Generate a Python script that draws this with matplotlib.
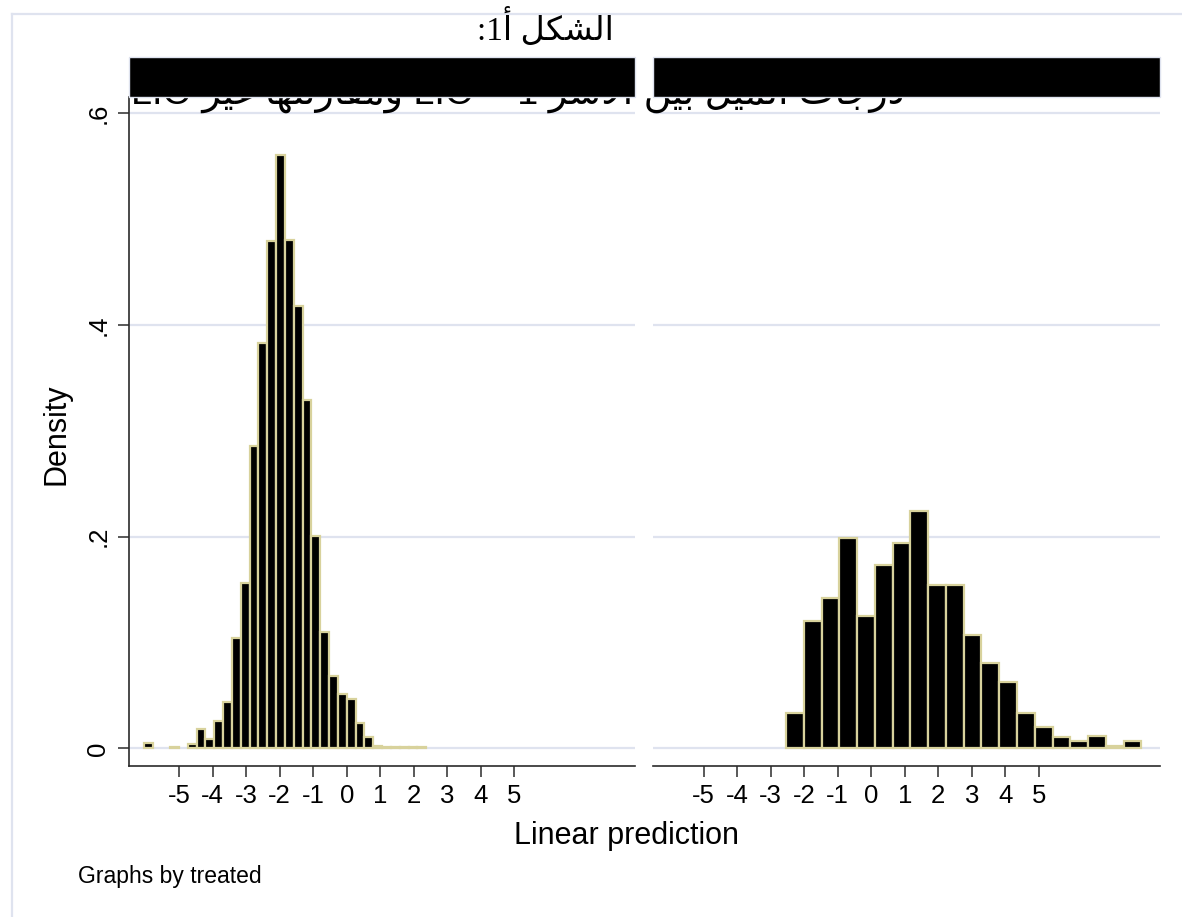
import matplotlib
matplotlib.use("Agg")
import matplotlib.pyplot as plt
from matplotlib.patches import Rectangle
from matplotlib.lines import Line2D
import numpy as np

# ---------------- data ----------------
title_text = "الشكل أ1:"
caption_text = "درجات الميل بين الأسر LIO = 1 ومقارنتها غير LIO"
xlabel_text = "Linear prediction"
ylabel_text = "Density"
note_text = "Graphs by treated"

# left panel (treated = 0): histogram bins
left_bin_start = -6.057
left_bin_width = 0.2634
left_density = [0.005, 0.0, 0.0, 0.0015, 0.0, 0.004, 0.0185, 0.009, 0.026, 0.044,
                0.104, 0.156, 0.286, 0.383, 0.479, 0.561, 0.480, 0.418, 0.329, 0.201,
                0.110, 0.068, 0.051, 0.047, 0.024, 0.0105, 0.0026, 0.0012, 0.0012, 0.0012,
                0.0012, 0.0012]

# right panel (treated = 1)
right_bin_start = -2.539
right_bin_width = 0.5298
right_density = [0.033, 0.120, 0.142, 0.199, 0.125, 0.173, 0.194, 0.224, 0.154, 0.154,
                 0.107, 0.081, 0.063, 0.033, 0.020, 0.011, 0.007, 0.012, 0.0025, 0.007]

x_ticks = [-5, -4, -3, -2, -1, 0, 1, 2, 3, 4, 5]
x_ticklabels = ["-5", "-4", "-3", "-2", "-1", "0", "1", "2", "3", "4", "5"]
y_ticks = [0, 0.2, 0.4, 0.6]
y_ticklabels = ["0", ".2", ".4", ".6"]

# ---------------- simple Arabic shaping for display ----------------
AR_FORMS = {
    'ا': (0xFE8D, 0xFE8E, None, None),
    'أ': (0xFE83, 0xFE84, None, None),
    'ب': (0xFE8F, 0xFE90, 0xFE91, 0xFE92),
    'ة': (0xFE93, 0xFE94, None, None),
    'ت': (0xFE95, 0xFE96, 0xFE97, 0xFE98),
    'ج': (0xFE9D, 0xFE9E, 0xFE9F, 0xFEA0),
    'د': (0xFEA9, 0xFEAA, None, None),
    'ر': (0xFEAD, 0xFEAE, None, None),
    'ز': (0xFEAF, 0xFEB0, None, None),
    'س': (0xFEB1, 0xFEB2, 0xFEB3, 0xFEB4),
    'ش': (0xFEB5, 0xFEB6, 0xFEB7, 0xFEB8),
    'ع': (0xFEC9, 0xFECA, 0xFECB, 0xFECC),
    'غ': (0xFECD, 0xFECE, 0xFECF, 0xFED0),
    'ق': (0xFED5, 0xFED6, 0xFED7, 0xFED8),
    'ك': (0xFED9, 0xFEDA, 0xFEDB, 0xFEDC),
    'ل': (0xFEDD, 0xFEDE, 0xFEDF, 0xFEE0),
    'م': (0xFEE1, 0xFEE2, 0xFEE3, 0xFEE4),
    'ن': (0xFEE5, 0xFEE6, 0xFEE7, 0xFEE8),
    'ه': (0xFEE9, 0xFEEA, 0xFEEB, 0xFEEC),
    'و': (0xFEED, 0xFEEE, None, None),
    'ي': (0xFEF1, 0xFEF2, 0xFEF3, 0xFEF4),
}
LAM_ALEF = {'ا': (0xFEFB, 0xFEFC), 'أ': (0xFEF7, 0xFEF8)}


def shape(s):
    out = []
    i, n = 0, len(s)
    while i < n:
        c = s[i]
        if c not in AR_FORMS:
            out.append(c)
            i += 1
            continue
        prev = s[i - 1] if i > 0 else None
        joins_prev = prev in AR_FORMS and AR_FORMS[prev][2] is not None
        if c == 'ل' and i + 1 < n and s[i + 1] in LAM_ALEF:
            iso, fin = LAM_ALEF[s[i + 1]]
            out.append(chr(fin if joins_prev else iso))
            i += 2
            continue
        nxt = s[i + 1] if i + 1 < n else None
        iso, fin, ini, med = AR_FORMS[c]
        joins_next = ini is not None and nxt in AR_FORMS
        if joins_prev and joins_next:
            f = med
        elif joins_prev:
            f = fin
        elif joins_next:
            f = ini
        else:
            f = iso
        out.append(chr(f))
        i += 1
    return ''.join(out)


def visual(s):
    def kind(c):
        if '\u0600' <= c <= '\u06FF':
            return 'R'
        if c.isascii() and c.isalnum():
            return 'L'
        return 'N'
    types = [kind(c) for c in s]
    n = len(s)
    i = 0
    while i < n:
        if types[i] == 'N':
            j = i
            while j < n and types[j] == 'N':
                j += 1
            before = types[i - 1] if i > 0 else 'R'
            after = types[j] if j < n else 'R'
            t = 'L' if (before == 'L' and after == 'L') else 'R'
            for k in range(i, j):
                types[k] = t
            i = j
        else:
            i += 1
    runs = []
    for c, t in zip(s, types):
        if runs and runs[-1][0] == t:
            runs[-1][1].append(c)
        else:
            runs.append([t, [c]])
    parts = []
    for t, chars in runs:
        txt = ''.join(chars)
        if t == 'R':
            txt = shape(txt)[::-1]
        parts.append(txt)
    return ''.join(parts[::-1])


# ---------------- figure ----------------
W, H = 1182, 917
fig = plt.figure(figsize=(W / 100, H / 100), dpi=100)
fig.patch.set_facecolor("white")

TAN = "#d8d29c"
GRID = "#dfe3ef"
AXC = "#2b2b2b"


def fx(px):
    return px / W


def fy(py):
    return 1 - py / H


ax_left, ax_right_l, ax_w = 128.5, 653.0, 506.5
ax_top, ax_bot = 97.0, 765.7

# frame lines
fig.add_artist(Line2D([fx(12), 1.0], [fy(14), fy(14)], color=GRID, lw=1.6, zorder=0))
fig.add_artist(Line2D([fx(12), fx(12)], [fy(14), 0.0], color=GRID, lw=1.6, zorder=0))

axes = []
for i, (lpx, start, width, dens) in enumerate([
        (ax_left, left_bin_start, left_bin_width, left_density),
        (ax_right_l, right_bin_start, right_bin_width, right_density)]):
    ax = fig.add_axes([fx(lpx), fy(ax_bot), ax_w / W, (ax_bot - ax_top) / H])
    dens = np.asarray(dens)
    edges = start + width * np.arange(len(dens))
    m = dens > 0
    ax.bar(edges[m], dens[m], width=width, align="edge", color="black",
           edgecolor=TAN, linewidth=1.6, zorder=3)
    ax.set_xlim(-6.51, 8.6)
    ax.set_ylim(-0.0164, 0.6155)
    ax.set_yticks(y_ticks)
    ax.grid(axis="y", color=GRID, linewidth=1.6, zorder=0)
    ax.grid(axis="x", visible=False)
    ax.set_axisbelow(True)
    for sp in ["top", "right"]:
        ax.spines[sp].set_visible(False)
    ax.spines["bottom"].set_color(AXC)
    ax.spines["bottom"].set_linewidth(1.2)
    ax.set_xticks(x_ticks)
    ax.set_xticklabels(x_ticklabels, fontsize=18.5, family="Liberation Sans")
    ax.tick_params(axis="x", direction="out", length=8, width=1.1, color=AXC, pad=5)
    if i == 0:
        ax.spines["left"].set_color(AXC)
        ax.spines["left"].set_linewidth(1.2)
        ax.set_yticklabels(y_ticklabels, fontsize=18.5, family="Liberation Sans",
                           rotation=90, va="center")
        ax.tick_params(axis="y", direction="out", length=8, width=1.1, color=AXC, pad=5)
    else:
        ax.spines["left"].set_visible(False)
        ax.tick_params(axis="y", length=0, labelleft=False)
    axes.append(ax)

# caption line (mostly hidden behind the panel title boxes), fitted to its span
cap_l, cap_r = 131.0, 905.0
cap = fig.text(fx(cap_l), fy(105), visual(caption_text), ha="left", va="baseline",
               fontsize=28, family=["Liberation Sans", "DejaVu Sans"], color="black", zorder=1)
fig.canvas.draw()
bb = cap.get_window_extent()
cap.set_fontsize(28 * (cap_r - cap_l) / bb.width)

# panel strip boxes
for lpx in (ax_left, ax_right_l):
    fig.add_artist(Rectangle((fx(lpx), fy(96.7)), ax_w / W, (96.7 - 57.3) / H,
                             transform=fig.transFigure, facecolor="black",
                             edgecolor=GRID, linewidth=1.0, zorder=5))

# main title
fig.text(fx(545), fy(40), visual(title_text), ha="center", va="baseline",
         fontsize=24, family=["Liberation Serif", "DejaVu Sans"], color="black", zorder=6)

# axis titles
fig.text(fx(627), fy(836), xlabel_text, ha="center", va="center",
         fontsize=22, family="Liberation Sans")
fig.text(fx(57), fy(434), ylabel_text, ha="center", va="center", rotation=90,
         fontsize=22, family="Liberation Sans")
fig.text(fx(78), fy(876), note_text, ha="left", va="center",
         fontsize=16.5, family="Liberation Sans")

fig.savefig("out.png", dpi=100, facecolor="white")
